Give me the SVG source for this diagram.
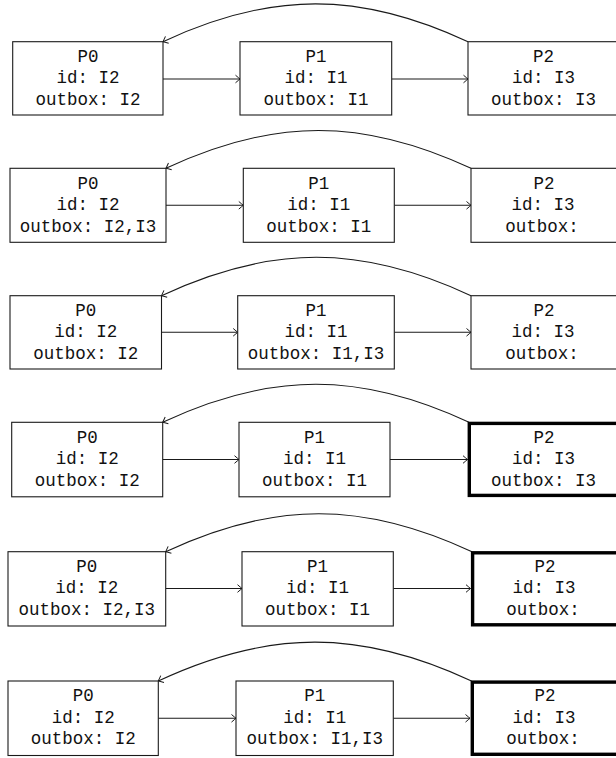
<svg xmlns="http://www.w3.org/2000/svg" width="616" height="758" viewBox="0 0 616 758">
<style>
.box{fill:#fff;stroke:#1a1a1a;stroke-width:1.1}
.thick{fill:#fff;stroke:#000;stroke-width:3.4}
.t{font-family:"Liberation Mono","DejaVu Sans Mono",monospace;font-size:17.5px;fill:#111;text-anchor:middle}
.e{fill:none;stroke:#1a1a1a;stroke-width:1.1}
</style>
<defs>
<marker id="ah" markerUnits="userSpaceOnUse" markerWidth="12" markerHeight="12" viewBox="-6 -6 12 12" refX="0" refY="0" orient="auto">
<path d="M-4.5,-3.8 Q-1.2,-1 0,0 Q-1.2,1 -4.5,3.8" fill="none" stroke="#1a1a1a" stroke-width="1"/>
</marker>
</defs>
<rect width="616" height="758" fill="#fff"/>

<g id="connectors">
<!-- row 1 -->
<path class="e" d="M163,79 H240" marker-end="url(#ah)"/>
<path class="e" d="M392,79 H468" marker-end="url(#ah)"/>
<path class="e" d="M468,41.7 C359.8,-8.8 271.2,-8.8 163,41.7" marker-end="url(#ah)"/>
<!-- row 2 -->
<path class="e" d="M166,205.3 H243.3" marker-end="url(#ah)"/>
<path class="e" d="M394.3,205.3 H471" marker-end="url(#ah)"/>
<path class="e" d="M471,168.3 C362.8,117.8 274.2,117.8 166,168.3" marker-end="url(#ah)"/>
<!-- row 3 -->
<path class="e" d="M161.5,332.3 H237.7" marker-end="url(#ah)"/>
<path class="e" d="M394.3,332.3 H471" marker-end="url(#ah)"/>
<path class="e" d="M471,295.7 C361.2,244.5 271.3,244.5 161.5,295.7" marker-end="url(#ah)"/>
<!-- row 4 -->
<path class="e" d="M162.7,459.5 H239" marker-end="url(#ah)"/>
<path class="e" d="M390,459.5 H467.5" marker-end="url(#ah)"/>
<path class="e" d="M469,422.3 C360.3,371.6 271.4,371.6 162.7,422.3" marker-end="url(#ah)"/>
<!-- row 5 -->
<path class="e" d="M165.7,588.5 H242" marker-end="url(#ah)"/>
<path class="e" d="M393.3,588.5 H470.5" marker-end="url(#ah)"/>
<path class="e" d="M472,551.7 C363.3,501 274.4,501 165.7,551.7" marker-end="url(#ah)"/>
<!-- row 6 -->
<path class="e" d="M158.3,718.3 H236" marker-end="url(#ah)"/>
<path class="e" d="M393.3,718.3 H470" marker-end="url(#ah)"/>
<path class="e" d="M471.5,681 C360.4,629.2 269.4,629.2 158.3,681" marker-end="url(#ah)"/>
</g>

<!-- Row 1 -->
<g id="r1-p0"><rect class="box" x="12.7" y="41.7" width="150.3" height="73.3"/>
<text class="t" x="87.9" y="61.8">P0</text><text class="t" x="87.9" y="83.3">id: I2</text><text class="t" x="87.9" y="104.8">outbox: I2</text></g>
<g id="r1-p1"><rect class="box" x="240" y="41.7" width="151.7" height="73.3"/>
<text class="t" x="315.9" y="61.8">P1</text><text class="t" x="315.9" y="83.3">id: I1</text><text class="t" x="315.9" y="104.8">outbox: I1</text></g>
<g id="r1-p2"><rect class="box" x="468" y="41.7" width="151" height="73.3"/>
<text class="t" x="543.5" y="61.8">P2</text><text class="t" x="543.5" y="83.3">id: I3</text><text class="t" x="543.5" y="104.8">outbox: I3</text></g>

<!-- Row 2 -->
<g id="r2-p0"><rect class="box" x="10" y="168.3" width="156" height="74"/>
<text class="t" x="88" y="188.8">P0</text><text class="t" x="88" y="210.3">id: I2</text><text class="t" x="88" y="231.8">outbox: I2,I3</text></g>
<g id="r2-p1"><rect class="box" x="243.3" y="168.3" width="151" height="74"/>
<text class="t" x="318.8" y="188.8">P1</text><text class="t" x="318.8" y="210.3">id: I1</text><text class="t" x="318.8" y="231.8">outbox: I1</text></g>
<g id="r2-p2"><rect class="box" x="471" y="168.3" width="151" height="74"/>
<text class="t" x="544" y="188.8">P2</text><text class="t" x="543" y="210.3">id: I3</text><text class="t" x="542" y="231.8">outbox:</text></g>

<!-- Row 3 -->
<g id="r3-p0"><rect class="box" x="10" y="295.7" width="151.5" height="73.3"/>
<text class="t" x="85.8" y="315.8">P0</text><text class="t" x="85.8" y="337.3">id: I2</text><text class="t" x="85.8" y="358.8">outbox: I2</text></g>
<g id="r3-p1"><rect class="box" x="237.7" y="295.7" width="156.6" height="73.3"/>
<text class="t" x="316" y="315.8">P1</text><text class="t" x="316" y="337.3">id: I1</text><text class="t" x="316" y="358.8">outbox: I1,I3</text></g>
<g id="r3-p2"><rect class="box" x="471" y="295.7" width="151" height="73.3"/>
<text class="t" x="544" y="315.8">P2</text><text class="t" x="543" y="337.3">id: I3</text><text class="t" x="542" y="358.8">outbox:</text></g>

<!-- Row 4 -->
<g id="r4-p0"><rect class="box" x="11.7" y="422.3" width="151" height="74.5"/>
<text class="t" x="87.2" y="442.6">P0</text><text class="t" x="87.2" y="464.1">id: I2</text><text class="t" x="87.2" y="485.6">outbox: I2</text></g>
<g id="r4-p1"><rect class="box" x="239" y="422.3" width="151" height="74.5"/>
<text class="t" x="314.5" y="442.6">P1</text><text class="t" x="314.5" y="464.1">id: I1</text><text class="t" x="314.5" y="485.6">outbox: I1</text></g>
<g id="r4-p2"><rect class="thick" x="469.3" y="423.4" width="151" height="72"/>
<text class="t" x="544" y="442.6">P2</text><text class="t" x="543.5" y="464.1">id: I3</text><text class="t" x="543.5" y="485.6">outbox: I3</text></g>

<!-- Row 5 -->
<g id="r5-p0"><rect class="box" x="8" y="551.7" width="157.7" height="74.3"/>
<text class="t" x="86.8" y="571.9">P0</text><text class="t" x="86.8" y="593.4">id: I2</text><text class="t" x="86.8" y="614.9">outbox: I2,I3</text></g>
<g id="r5-p1"><rect class="box" x="242" y="551.7" width="151.3" height="74.3"/>
<text class="t" x="317.6" y="571.9">P1</text><text class="t" x="317.6" y="593.4">id: I1</text><text class="t" x="317.6" y="614.9">outbox: I1</text></g>
<g id="r5-p2"><rect class="thick" x="472.6" y="552.8" width="151" height="72"/>
<text class="t" x="545" y="571.9">P2</text><text class="t" x="544" y="593.4">id: I3</text><text class="t" x="543" y="614.9">outbox:</text></g>

<!-- Row 6 -->
<g id="r6-p0"><rect class="box" x="8" y="681" width="150.3" height="74.5"/>
<text class="t" x="83.2" y="701.3">P0</text><text class="t" x="83.2" y="722.8">id: I2</text><text class="t" x="83.2" y="744.3">outbox: I2</text></g>
<g id="r6-p1"><rect class="box" x="236" y="681" width="157.3" height="74.5"/>
<text class="t" x="314.7" y="701.3">P1</text><text class="t" x="314.7" y="722.8">id: I1</text><text class="t" x="314.7" y="744.3">outbox: I1,I3</text></g>
<g id="r6-p2"><rect class="thick" x="472.3" y="682.1" width="151" height="72.2"/>
<text class="t" x="545" y="701.3">P2</text><text class="t" x="544" y="722.8">id: I3</text><text class="t" x="543" y="744.3">outbox:</text></g>
</svg>
